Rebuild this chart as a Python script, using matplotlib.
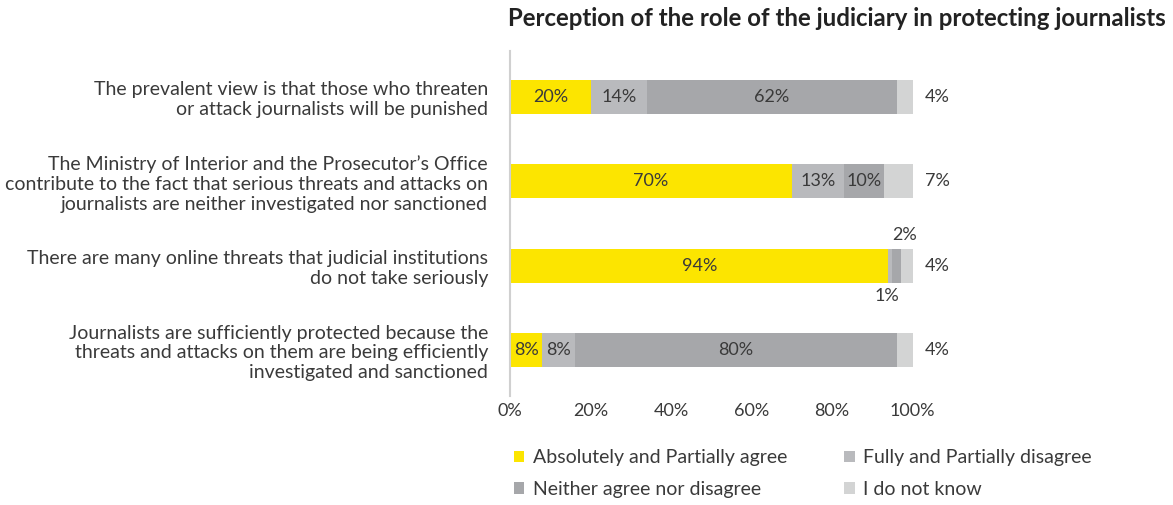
"""Stacked horizontal bars: perception of the judiciary's role in protecting journalists."""

import matplotlib

matplotlib.use("Agg")
import matplotlib.pyplot as plt
from matplotlib.patches import Patch
import numpy as np

plt.rcParams["font.family"] = ["Lato", "DejaVu Sans"]

statements = [
    "The prevalent view is that those who threaten\nor attack journalists will be punished",
    "The Ministry of Interior and the Prosecutor\u2019s Office\ncontribute to the fact that serious threats and attacks on\njournalists are neither investigated nor sanctioned",
    "There are many online threats that judicial institutions\ndo not take seriously",
    "Journalists are sufficiently protected because the\nthreats and attacks on them are being efficiently\ninvestigated and sanctioned",
]
agree = [20, 70, 94, 8]
fully_disagree = [14, 13, 1, 8]
neither = [62, 10, 2, 80]
dont_know = [4, 7, 4, 4]

series = [
    ("Absolutely and Partially agree", agree, "#fce500"),
    ("Fully and Partially disagree", fully_disagree, "#b9babd"),
    ("Neither agree nor disagree", neither, "#a6a7aa"),
    ("I do not know", dont_know, "#d3d4d4"),
]
TEXT = "#3a3a3a"
VAL_FS = 13

fig = plt.figure(figsize=(11.73, 5.05), dpi=100)
ax = fig.add_axes([0.435, 0.215, 0.343, 0.685])

y = np.arange(len(statements))
left = np.zeros(len(statements))
for name, vals, color in series:
    vals = np.array(vals, dtype=float)
    ax.barh(y, vals, left=left, height=0.4, color=color, edgecolor="none")
    for i, v in enumerate(vals):
        cx = left[i] + v / 2
        if name == "I do not know":
            ax.text(103, y[i], f"{int(v)}%", ha="left", va="center", fontsize=VAL_FS, color=TEXT)
        elif v >= 5:
            ax.text(cx, y[i], f"{int(v)}%", ha="center", va="center", fontsize=VAL_FS, color=TEXT)
        elif name == "Fully and Partially disagree":
            ax.text(cx - 1, y[i] + 0.36, f"{int(v)}%", ha="center", va="center", fontsize=VAL_FS, color=TEXT)
        else:
            ax.text(cx + 2, y[i] - 0.36, f"{int(v)}%", ha="center", va="center", fontsize=VAL_FS, color=TEXT)
    left += vals

ax.set_xlim(0, 100)
ax.set_ylim(len(statements) - 0.45, -0.55)
ax.set_xticks(np.arange(0, 101, 20))
ax.set_xticklabels([f"{t}%" for t in range(0, 101, 20)], fontsize=13, color=TEXT)
ax.set_yticks(y)
ax.set_yticklabels(statements, fontsize=14, color=TEXT, linespacing=1.2)
ax.tick_params(axis="y", length=0, pad=16)
ax.tick_params(axis="x", length=0, pad=5)
for side in ("top", "right", "bottom"):
    ax.spines[side].set_visible(False)
ax.spines["left"].set_color("#d0d0d0")
ax.spines["left"].set_linewidth(1.5)

ax.set_title("Perception of the role of the judiciary in protecting journalists",
             fontsize=17.3, fontweight="bold", color="#222222", loc="left", x=-0.005, pad=18)

handles = [Patch(facecolor=c, edgecolor="none") for _, _, c in series]
labels = [n for n, _, _ in series]
order = [0, 2, 1, 3]
fig.legend([handles[i] for i in order], [labels[i] for i in order], ncol=2,
           loc="upper left", bbox_to_anchor=(0.423, 0.145), frameon=False,
           fontsize=14, handlelength=0.55, handleheight=0.55, handletextpad=0.45,
           columnspacing=2.9, labelspacing=0.75, labelcolor=TEXT)

fig.savefig("out.png", dpi=100)
